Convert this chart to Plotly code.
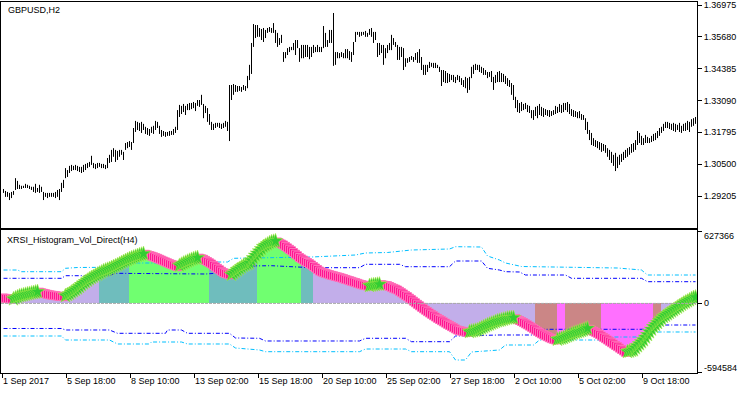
import plotly.graph_objects as go

# ---------------- DATA ----------------
price_high = [
    1.2949, 1.2941, 1.2937, 1.2933, 1.2937, 1.2941, 1.2993, 1.2982, 1.2966, 1.2962,
    1.2962, 1.2970, 1.2966, 1.2962, 1.2958, 1.2958, 1.2970, 1.2953, 1.2966, 1.2958,
    1.2937, 1.2933, 1.2933, 1.2933, 1.2933, 1.2933, 1.2937, 1.2945, 1.2949, 1.2974,
    1.2986, 1.3034, 1.3026, 1.3043, 1.3047, 1.3043, 1.3047, 1.3043, 1.3039, 1.3039,
    1.3047, 1.3051, 1.3055, 1.3059, 1.3084, 1.3055, 1.3051, 1.3055, 1.3055, 1.3051,
    1.3051, 1.3047, 1.3075, 1.3088, 1.3108, 1.3115, 1.3108, 1.3104, 1.3108, 1.3108,
    1.3100, 1.3136, 1.3140, 1.3144, 1.3140, 1.3197, 1.3226, 1.3222, 1.3218, 1.3222,
    1.3214, 1.3202, 1.3197, 1.3193, 1.3202, 1.3206, 1.3226, 1.3222, 1.3206, 1.3189,
    1.3185, 1.3181, 1.3181, 1.3185, 1.3185, 1.3193, 1.3202, 1.3270, 1.3291, 1.3287,
    1.3295, 1.3287, 1.3295, 1.3299, 1.3299, 1.3303, 1.3299, 1.3311, 1.3311, 1.3332,
    1.3295, 1.3287, 1.3278, 1.3254, 1.3222, 1.3214, 1.3218, 1.3218, 1.3218, 1.3214,
    1.3218, 1.3226, 1.3222, 1.3372, 1.3372, 1.3376, 1.3372, 1.3368, 1.3368, 1.3364,
    1.3372, 1.3368, 1.3409, 1.3454, 1.3543, 1.3620, 1.3616, 1.3616, 1.3604, 1.3600,
    1.3604, 1.3596, 1.3604, 1.3608, 1.3604, 1.3624, 1.3596, 1.3584, 1.3563, 1.3576,
    1.3506, 1.3506, 1.3522, 1.3527, 1.3527, 1.3543, 1.3555, 1.3555, 1.3522, 1.3535,
    1.3535, 1.3535, 1.3535, 1.3527, 1.3527, 1.3535, 1.3527, 1.3535, 1.3527, 1.3527,
    1.3612, 1.3584, 1.3555, 1.3596, 1.3596, 1.3665, 1.3506, 1.3506, 1.3502, 1.3506,
    1.3502, 1.3518, 1.3518, 1.3510, 1.3506, 1.3547, 1.3588, 1.3588, 1.3588, 1.3588,
    1.3588, 1.3592, 1.3584, 1.3600, 1.3604, 1.3588, 1.3588, 1.3543, 1.3543, 1.3535,
    1.3535, 1.3522, 1.3535, 1.3543, 1.3576, 1.3563, 1.3547, 1.3535, 1.3527, 1.3527,
    1.3522, 1.3481, 1.3481, 1.3486, 1.3490, 1.3486, 1.3502, 1.3506, 1.3518, 1.3486,
    1.3454, 1.3454, 1.3454, 1.3466, 1.3462, 1.3462, 1.3462, 1.3454, 1.3446, 1.3433,
    1.3433, 1.3429, 1.3421, 1.3417, 1.3413, 1.3413, 1.3405, 1.3413, 1.3409, 1.3400,
    1.3392, 1.3405, 1.3400, 1.3405, 1.3446, 1.3454, 1.3458, 1.3454, 1.3454, 1.3446,
    1.3441, 1.3433, 1.3425, 1.3425, 1.3429, 1.3405, 1.3413, 1.3425, 1.3429, 1.3421,
    1.3417, 1.3409, 1.3400, 1.3392, 1.3380, 1.3372, 1.3324, 1.3311, 1.3299, 1.3303,
    1.3295, 1.3299, 1.3291, 1.3287, 1.3270, 1.3270, 1.3283, 1.3287, 1.3295, 1.3283,
    1.3278, 1.3274, 1.3270, 1.3270, 1.3266, 1.3270, 1.3287, 1.3283, 1.3295, 1.3291,
    1.3299, 1.3299, 1.3303, 1.3295, 1.3274, 1.3270, 1.3266, 1.3262, 1.3266, 1.3254,
    1.3250, 1.3237, 1.3222, 1.3189, 1.3177, 1.3156, 1.3148, 1.3144, 1.3140, 1.3136,
    1.3132, 1.3128, 1.3115, 1.3108, 1.3100, 1.3088, 1.3096, 1.3080, 1.3088, 1.3092,
    1.3100, 1.3108, 1.3115, 1.3120, 1.3132, 1.3136, 1.3148, 1.3185, 1.3177, 1.3165,
    1.3156, 1.3169, 1.3161, 1.3156, 1.3165, 1.3173, 1.3177, 1.3185, 1.3197, 1.3202,
    1.3214, 1.3222, 1.3222, 1.3218, 1.3214, 1.3218, 1.3214, 1.3210, 1.3218, 1.3206,
    1.3214, 1.3218, 1.3226, 1.3222, 1.3233, 1.3237, 1.3242,
]

price_low = [
    1.2933, 1.2917, 1.2917, 1.2904, 1.2912, 1.2925, 1.2945, 1.2949, 1.2949, 1.2949,
    1.2953, 1.2953, 1.2953, 1.2949, 1.2945, 1.2937, 1.2933, 1.2937, 1.2933, 1.2937,
    1.2904, 1.2917, 1.2912, 1.2917, 1.2917, 1.2917, 1.2912, 1.2917, 1.2904, 1.2937,
    1.2953, 1.2993, 1.2998, 1.3014, 1.3022, 1.3026, 1.3026, 1.3022, 1.3018, 1.3014,
    1.3018, 1.3026, 1.3034, 1.3039, 1.3047, 1.3034, 1.3030, 1.3034, 1.3039, 1.3034,
    1.3034, 1.3030, 1.3034, 1.3055, 1.3059, 1.3080, 1.3059, 1.3067, 1.3080, 1.3088,
    1.3067, 1.3108, 1.3115, 1.3120, 1.3108, 1.3136, 1.3181, 1.3189, 1.3185, 1.3177,
    1.3189, 1.3173, 1.3169, 1.3165, 1.3177, 1.3173, 1.3189, 1.3197, 1.3173, 1.3161,
    1.3165, 1.3161, 1.3165, 1.3165, 1.3169, 1.3169, 1.3177, 1.3189, 1.3242, 1.3254,
    1.3262, 1.3250, 1.3270, 1.3270, 1.3274, 1.3278, 1.3266, 1.3287, 1.3283, 1.3291,
    1.3237, 1.3258, 1.3222, 1.3210, 1.3189, 1.3189, 1.3197, 1.3202, 1.3197, 1.3193,
    1.3197, 1.3202, 1.3185, 1.3144, 1.3311, 1.3332, 1.3344, 1.3344, 1.3348, 1.3344,
    1.3352, 1.3348, 1.3359, 1.3392, 1.3417, 1.3527, 1.3563, 1.3568, 1.3568, 1.3555,
    1.3547, 1.3563, 1.3584, 1.3588, 1.3584, 1.3584, 1.3543, 1.3527, 1.3535, 1.3543,
    1.3466, 1.3481, 1.3494, 1.3506, 1.3514, 1.3514, 1.3494, 1.3522, 1.3466, 1.3481,
    1.3481, 1.3486, 1.3486, 1.3477, 1.3486, 1.3502, 1.3506, 1.3506, 1.3506, 1.3506,
    1.3522, 1.3527, 1.3527, 1.3543, 1.3543, 1.3450, 1.3454, 1.3481, 1.3481, 1.3486,
    1.3481, 1.3481, 1.3481, 1.3474, 1.3466, 1.3494, 1.3547, 1.3576, 1.3568, 1.3572,
    1.3576, 1.3568, 1.3568, 1.3576, 1.3568, 1.3543, 1.3555, 1.3486, 1.3494, 1.3502,
    1.3454, 1.3481, 1.3502, 1.3514, 1.3514, 1.3535, 1.3527, 1.3474, 1.3474, 1.3486,
    1.3433, 1.3446, 1.3462, 1.3466, 1.3474, 1.3466, 1.3474, 1.3462, 1.3462, 1.3433,
    1.3413, 1.3413, 1.3425, 1.3441, 1.3446, 1.3441, 1.3441, 1.3441, 1.3425, 1.3368,
    1.3384, 1.3380, 1.3380, 1.3384, 1.3392, 1.3384, 1.3380, 1.3392, 1.3384, 1.3372,
    1.3364, 1.3359, 1.3340, 1.3352, 1.3400, 1.3417, 1.3433, 1.3433, 1.3425, 1.3421,
    1.3413, 1.3413, 1.3400, 1.3405, 1.3384, 1.3352, 1.3380, 1.3384, 1.3384, 1.3384,
    1.3384, 1.3376, 1.3368, 1.3364, 1.3332, 1.3311, 1.3278, 1.3262, 1.3258, 1.3266,
    1.3270, 1.3274, 1.3262, 1.3258, 1.3237, 1.3230, 1.3246, 1.3237, 1.3250, 1.3246,
    1.3242, 1.3250, 1.3246, 1.3242, 1.3246, 1.3250, 1.3254, 1.3258, 1.3262, 1.3258,
    1.3262, 1.3270, 1.3262, 1.3254, 1.3246, 1.3242, 1.3242, 1.3237, 1.3237, 1.3230,
    1.3230, 1.3189, 1.3173, 1.3148, 1.3128, 1.3124, 1.3120, 1.3115, 1.3108, 1.3100,
    1.3104, 1.3096, 1.3080, 1.3067, 1.3055, 1.3043, 1.3022, 1.3034, 1.3047, 1.3059,
    1.3067, 1.3075, 1.3080, 1.3088, 1.3096, 1.3100, 1.3108, 1.3128, 1.3136, 1.3128,
    1.3128, 1.3136, 1.3136, 1.3136, 1.3140, 1.3144, 1.3148, 1.3156, 1.3165, 1.3177,
    1.3185, 1.3197, 1.3197, 1.3193, 1.3189, 1.3185, 1.3181, 1.3189, 1.3181, 1.3177,
    1.3185, 1.3185, 1.3189, 1.3181, 1.3202, 1.3206, 1.3214,
]

xrsi_hist = [
    46800, 44200, 41600, 39900, 38100, 38100, 46800, 55500, 64100, 68500,
    72800, 77100, 81500, 84900, 89300, 92700, 97100, 101400, 97100, 91900,
    87500, 83200, 78900, 74500, 71900, 69300, 66700, 64100, 61500, 59800,
    58100, 65900, 74500, 83200, 96200, 107500, 118700, 130900, 144700, 159500,
    174200, 186300, 199300, 211500, 222700, 232200, 242600, 252200, 261700, 271200,
    280800, 287700, 293800, 300700, 308500, 317200, 325000, 332800, 342300, 351800,
    361400, 370000, 377800, 386500, 393400, 399500, 406400, 413400, 419400, 424600,
    430700, 425500, 420300, 415100, 409900, 403800, 396900, 390800, 383000, 375200,
    367400, 359600, 351800, 344000, 338000, 331000, 324100, 318000, 327600, 338000,
    347500, 355300, 364000, 371800, 379600, 385600, 390800, 396000, 391700, 386500,
    382200, 372600, 362200, 351800, 341400, 329300, 316300, 304200, 291200, 278200,
    266000, 260000, 253900, 247800, 250400, 263400, 276400, 289400, 301600, 314600,
    326700, 334500, 342300, 350100, 371800, 393400, 415100, 434200, 453200, 472300,
    491400, 502600, 513000, 523400, 532100, 536400, 540800, 532100, 523400, 514800,
    506100, 494000, 481000, 468800, 455800, 441100, 426400, 412500, 397800, 385600,
    375200, 364800, 354400, 344000, 332800, 319800, 306800, 293800, 280800, 272100,
    266000, 260000, 254800, 248700, 243500, 239200, 234000, 229600, 225300, 220100,
    214100, 208000, 202800, 196700, 191500, 185500, 180300, 174200, 168100, 162900,
    158600, 154300, 150800, 153400, 156900, 159500, 162100, 164700, 165500, 162100,
    158600, 156000, 153400, 146500, 138700, 130900, 123900, 116100, 104900, 92700,
    81500, 69300, 58100, 45100, 32100, 19100, 5200, -7800, -20800, -33800,
    -46800, -58900, -71900, -83200, -94500, -106600, -117900, -129100, -139500, -149900,
    -160300, -170700, -181100, -190700, -201100, -210600, -221000, -230500, -235700, -240000,
    -244400, -247800, -250400, -246100, -241800, -238300, -234000, -230500, -221800, -213200,
    -204500, -195900, -187200, -180300, -173300, -166400, -159500, -152500, -148200, -143900,
    -138700, -134300, -129100, -126500, -124800, -123900, -131700, -140400, -148200, -156900,
    -166400, -176800, -186300, -196700, -207100, -219200, -230500, -241800, -253000, -263400,
    -272100, -280800, -289400, -298100, -305900, -311100, -317200, -312000, -306800, -302400,
    -297200, -289400, -282500, -274700, -266900, -259100, -253000, -247800, -241800, -236600,
    -230500, -222700, -215800, -224400, -233100, -241800, -250400, -259100, -270400, -282500,
    -293800, -305900, -317200, -328400, -340600, -351800, -364000, -375200, -387400, -399500,
    -411600, -423800, -418600, -414200, -409000, -403800, -386500, -369200, -351800, -334500,
    -317200, -293800, -271200, -247800, -224400, -201900, -184600, -167300, -149900, -132600,
    -115300, -104000, -91900, -80600, -68500, -57200, -45900, -33800, -22500, -10400,
    900, 10400, 19900, 29500, 39900, 49400, 53700,
]

# histogram colour index, as runs of consecutive bars
hist_run_lengths = [48, 15, 40, 24, 22, 6, 111, 11, 4, 18, 26, 4, 18]
hist_run_kinds = ["flat", "up1", "up2", "up1", "up2", "up1", "flat",
                  "dn1", "dn2", "dn1", "dn2", "dn1", "flat"]

# level bands (bar index, value)
up_outer_idx = [0, 7, 9, 29, 31, 37, 53, 56, 62, 98, 101, 112, 115, 132, 154, 176, 181, 192,
                204, 223, 226, 239, 242, 248, 251, 259, 307, 319, 322, 346]
up_outer_val = [289400, 289400, 274700, 274700, 304200, 311100, 312800, 332800, 350100, 350100,
                358800, 358800, 390800, 396000, 402100, 419400, 436800, 441100, 462800, 471400,
                491400, 488800, 410800, 376100, 350100, 319800, 306800, 289400, 246100, 246100]
up_inner_idx = [0, 29, 31, 53, 56, 98, 101, 115, 123, 134, 154, 178, 181, 198, 201, 223, 226,
                239, 242, 248, 251, 258, 261, 281, 284, 319, 322, 346]
up_inner_val = [217500, 217500, 240000, 240000, 260800, 260800, 254800, 272100, 324100, 326700,
                309400, 309400, 338800, 338800, 318000, 318000, 367400, 367400, 304200, 289400,
                274700, 272100, 246100, 246100, 217500, 217500, 188100, 188100]
lo_inner_idx = [0, 29, 31, 53, 57, 81, 82, 89, 92, 113, 116, 128, 131, 178, 181, 201, 204, 223,
                226, 248, 265, 268, 323, 326, 346]
lo_inner_val = [-217500, -217500, -230500, -230500, -259100, -259100, -230500, -230500, -259100,
                -259100, -299800, -302400, -325800, -325800, -302400, -302400, -331900, -331900,
                -282500, -273800, -273800, -224400, -224400, -187200, -187200]
lo_outer_idx = [0, 29, 31, 53, 57, 73, 74, 89, 92, 113, 116, 128, 131, 178, 181, 201, 204, 223,
                226, 231, 234, 248, 251, 265, 268, 298, 301, 323, 326, 346]
lo_outer_val = [-282500, -282500, -317200, -317200, -351800, -351800, -334500, -334500, -351800,
                -351800, -386500, -403800, -418600, -418600, -395200, -395200, -418600, -418600,
                -490500, -490500, -421200, -403800, -360500, -360500, -317200, -317200, -291200,
                -291200, -247800, -247800]

price_ticks = [1.36975, 1.35680, 1.34385, 1.33090, 1.31795, 1.30500, 1.29205]
ind_ticks = [627366, 0, -594584]
time_tick_idx = [0, 32, 64, 96, 128, 160, 192, 224, 256, 288, 320]
time_tick_labels = ["1 Sep 2017", "5 Sep 18:00", "8 Sep 10:00", "13 Sep 02:00", "15 Sep 18:00",
                    "20 Sep 10:00", "25 Sep 02:00", "27 Sep 18:00", "2 Oct 10:00", "5 Oct 02:00",
                    "9 Oct 18:00"]
symbol_title = "GBPUSD,H2"
indicator_title = "XRSI_Histogram_Vol_Direct(H4)"

# ---------------- STYLE ----------------
W, H = 750, 394
FONT = "Liberation Sans, Arial, sans-serif"
FS = 9
# hatched 1px bars + 1px gaps are shown as full-width bars in the averaged tint
hist_colors = {"flat": "#C2AEEA", "up1": "#6FBDBD", "up2": "#70FF70",
               "dn1": "#CB8686", "dn2": "#FF70FF"}
n = len(price_high)
X_RANGE = [-1.25, n - 0.25]
X_DOM = [1 / W, 697 / W]
TOP_DOM = [(H - 228) / H, (H - 2) / H]
BOT_DOM = [(H - 373) / H, (H - 230) / H]
Y_RANGE = [1.27903, 1.37097]
Y2_RANGE = [-603200, 636100]

fig = go.Figure()

# price bars (high-low)
bx, by = [], []
for i, (h, l) in enumerate(zip(price_high, price_low)):
    bx += [i, i, None]
    by += [l, h, None]
fig.add_trace(go.Scatter(x=bx, y=by, mode="lines", line=dict(color="black", width=1),
                         xaxis="x", yaxis="y", hoverinfo="skip"))

# histogram (one bar per H2 bar, coloured by its colour index)
kinds = []
for ln, k in zip(hist_run_lengths, hist_run_kinds):
    kinds += [k] * ln
fig.add_trace(go.Bar(x=list(range(n)), y=xrsi_hist, width=1.0,
                     marker=dict(color=[hist_colors[k] for k in kinds], line=dict(width=0)),
                     xaxis="x2", yaxis="y2", hoverinfo="skip"))

# bands
DASH = "4px,2px,1px,2px"
for idx, val, col in [(up_outer_idx, up_outer_val, "#00BFFF"),
                      (up_inner_idx, up_inner_val, "#0000FF"),
                      (lo_inner_idx, lo_inner_val, "#0000FF"),
                      (lo_outer_idx, lo_outer_val, "#00BFFF")]:
    fig.add_trace(go.Scatter(x=idx, y=val, mode="lines", line=dict(color=col, width=1, dash=DASH),
                             xaxis="x2", yaxis="y2", hoverinfo="skip"))

# signal markers coloured by direction
rise_x, rise_y, fall_x, fall_y = [], [], [], []
for i, v in enumerate(xrsi_hist):
    prev = xrsi_hist[i - 1] if i > 0 else xrsi_hist[1] + (xrsi_hist[0] - xrsi_hist[1]) * 2
    if v >= prev:
        rise_x.append(i); rise_y.append(v)
    else:
        fall_x.append(i); fall_y.append(v)
fig.add_trace(go.Scatter(x=fall_x, y=fall_y, mode="markers",
                         marker=dict(symbol="square", size=8, color="#FF1493",
                                     line=dict(color="#FF70B8", width=1)),
                         xaxis="x2", yaxis="y2", hoverinfo="skip"))
fig.add_trace(go.Scatter(x=rise_x, y=rise_y, mode="markers",
                         marker=dict(symbol="star", size=11, color="#32CD32",
                                     line=dict(color="#A8E848", width=0.5)),
                         xaxis="x2", yaxis="y2", hoverinfo="skip"))

axis_common = dict(showgrid=False, zeroline=False, showline=True, mirror=True,
                   linecolor="black", linewidth=1, tickcolor="black", automargin=False,
                   tickfont=dict(family=FONT, size=FS, color="black"))

fig.update_layout(
    width=W, height=H, autosize=False,
    margin=dict(l=0, r=0, t=0, b=0, pad=0, autoexpand=False),
    paper_bgcolor="white", plot_bgcolor="white",
    showlegend=False, hovermode=False, bargap=0,
    font=dict(family=FONT, size=FS, color="black"),
    xaxis=dict(domain=X_DOM, range=X_RANGE, anchor="y", showticklabels=False, ticks="",
               **axis_common),
    yaxis=dict(domain=TOP_DOM, range=Y_RANGE, anchor="x", side="right",
               tickvals=price_ticks, ticktext=["%.5f" % v for v in price_ticks],
               ticks="outside", ticklen=4, **axis_common),
    xaxis2=dict(domain=X_DOM, range=X_RANGE, anchor="y2", showticklabels=False,
                tickvals=[t - 0.6 for t in time_tick_idx], ticks="outside", ticklen=4,
                **axis_common),
    yaxis2=dict(domain=BOT_DOM, range=Y2_RANGE, anchor="x2", side="right",
                tickvals=ind_ticks, showticklabels=False, ticks="outside", ticklen=4,
                **axis_common),
)

# zero level line
fig.add_shape(type="line", xref="x2", yref="y2", x0=X_RANGE[0], x1=X_RANGE[1], y0=0, y1=0,
              line=dict(color="#A8A8A8", width=1, dash="3px,1px"), layer="above")

ann = []
ann.append(dict(text=symbol_title, xref="paper", yref="paper", x=6 / W, y=(H - 10) / H,
                xanchor="left", yanchor="middle", showarrow=False))
ann.append(dict(text=indicator_title, xref="paper", yref="paper", x=5 / W, y=(H - 240) / H,
                xanchor="left", yanchor="middle", showarrow=False))
for v, ypx in zip(ind_ticks, [236, 303, 368]):
    ann.append(dict(text=str(v), xref="paper", yref="paper", x=702 / W, y=(H - ypx) / H,
                    xanchor="left", yanchor="middle", showarrow=False))
for t, lab in zip(time_tick_idx, time_tick_labels):
    ann.append(dict(text=lab, xref="x2", yref="paper", x=t - 0.6, y=(H - 381) / H,
                    xanchor="left", yanchor="middle", showarrow=False, xshift=-1))
fig.update_layout(annotations=ann)

fig.write_html("out.html", config={"staticPlot": True},
               post_script="document.body.style.margin='0';document.body.style.padding='0';")
